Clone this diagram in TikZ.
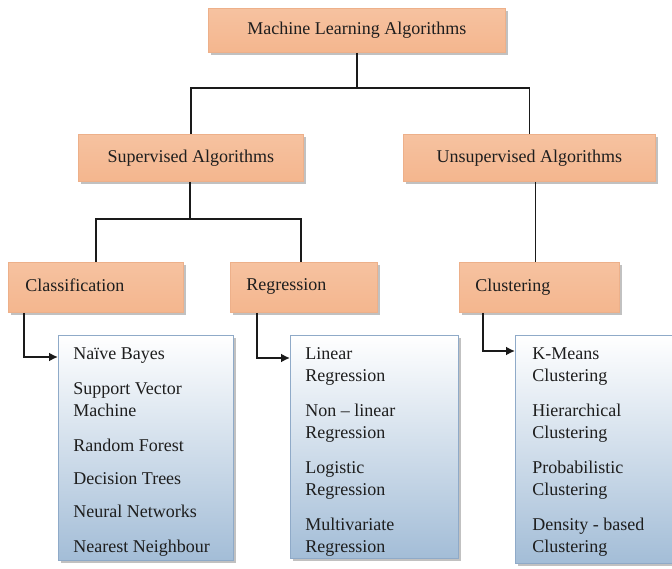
\documentclass[tikz,border=0pt]{standalone}
\usepackage{fontspec}
\setmainfont{Liberation Serif}
\newfontfamily\tnr{Liberation Serif}
\usetikzlibrary{arrows.meta,shadows}
\definecolor{txt}{HTML}{1E1E1E}
\definecolor{otop}{HTML}{F6C2A0}
\definecolor{omid}{HTML}{FEF2EA}
\definecolor{obot}{HTML}{F4B68E}
\definecolor{oedge}{HTML}{EDB08A}
\definecolor{btop}{HTML}{FFFFFF}
\definecolor{bbot}{HTML}{A3BDD7}
\definecolor{bedge}{HTML}{8FAAC8}
\definecolor{ln}{HTML}{1A1A1A}
\tikzset{
  obox/.style={draw=oedge, line width=0.8pt, top color=otop, middle color=omid, bottom color=obot,
    drop shadow={shadow xshift=2.5pt, shadow yshift=-2.5pt, fill=black!35, opacity=0.7},
    inner sep=0pt, anchor=north west, text=txt, font=\tnr\fontsize{18}{22}\selectfont},
  lbox/.style={draw=bedge, line width=0.8pt, top color=btop, bottom color=bbot,
    drop shadow={shadow xshift=2.5pt, shadow yshift=-2.5pt, fill=black!35, opacity=0.7},
    inner xsep=15pt, inner ysep=12pt, anchor=north west, text=txt, font=\tnr\fontsize{18}{22}\selectfont},
  conn/.style={draw=ln, line width=1.8pt},
  arr/.style={conn, -{Latex[length=9pt,width=9pt]}}
}
\begin{document}
\begin{tikzpicture}[x=1pt,y=-1pt]
\useasboundingbox (0,0) rectangle (672,569);
% top level
\node[obox, minimum width=297pt, minimum height=44pt] (ml) at (208,8) {Machine Learning Algorithms};
\node[obox, minimum width=225pt, minimum height=47pt] (sup) at (78,134) {\raisebox{3pt}{Supervised Algorithms}};
\node[obox, minimum width=252pt, minimum height=47pt] (uns) at (403,134) {\raisebox{3pt}{Unsupervised Algorithms}};
% third level
\node[obox, minimum width=158pt, minimum height=50pt, text width=141pt, align=left, inner xsep=17pt] (cls) at (8,262) {\raisebox{5pt}{Classification}};
\node[obox, minimum width=131pt, minimum height=50pt, text width=115pt, align=left, inner xsep=16pt] (reg) at (230,262) {\raisebox{5pt}{Regression}};
\node[obox, minimum width=144pt, minimum height=50pt, text width=128pt, align=left, inner xsep=16pt] (clu) at (459,262) {\raisebox{5pt}{Clustering}};
% lists
\node[lbox] (clsl) at (58,335) {\parbox[t][201pt][t]{145pt}{\raggedright Naïve Bayes\\[13pt]Support Vector\\Machine\\[13pt]Random Forest\\[11pt]Decision Trees\\[11pt]Neural Networks\\[13pt]Nearest Neighbour}};
\node[lbox, inner xsep=15pt] (regl) at (290,335) {\parbox[t][199pt][t]{138pt}{\raggedright Linear\\Regression\\[13pt]Non – linear\\Regression\\[13pt]Logistic\\Regression\\[13pt]Multivariate\\Regression}};
\node[lbox, inner xsep=17pt] (clul) at (515,335) {\parbox[t][204pt][t]{140pt}{\raggedright K-Means\\Clustering\\[13pt]Hierarchical\\Clustering\\[13pt]Probabilistic\\Clustering\\[13pt]Density - based\\Clustering}};
% connectors
\coordinate (j1) at (357,88);
\draw[conn] (ml.south -| j1) -- (j1);
\draw[conn] (sup.north) |- (j1) -| (uns.north);
\coordinate (j2) at (190,219);
\draw[conn] (sup.south -| j2) -- (j2);
\draw[conn] (cls.north) |- (j2) -| ([xshift=-3pt]reg.north);
\coordinate (j3) at (535.5,182);
\draw[conn] (j3) -- (j3 |- clu.north);
\draw[arr] ([xshift=16pt]cls.south west) |- ([yshift=-22pt]clsl.north west);
\draw[arr] ([xshift=27pt]reg.south west) |- ([yshift=-23pt]regl.north west);
\draw[arr] ([xshift=24pt]clu.south west) |- ([yshift=-16pt]clul.north west);
\end{tikzpicture}
\end{document}
